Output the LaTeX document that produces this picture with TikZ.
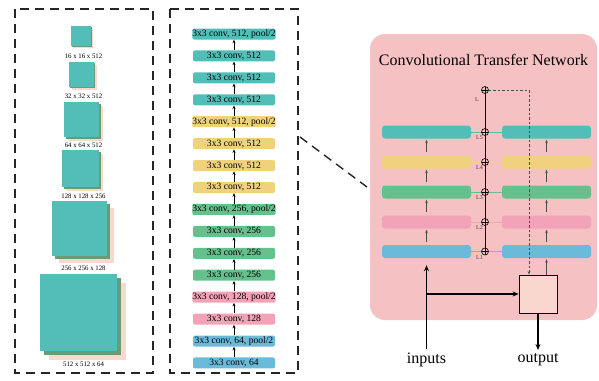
\documentclass[tikz,border=0pt]{standalone}
\usepackage{fontspec}
\setmainfont{Liberation Serif}
\usetikzlibrary{arrows.meta}
\definecolor{cteal}{HTML}{53BDB8}
\definecolor{cyel}{HTML}{F0D27E}
\definecolor{cgrn}{HTML}{66C08D}
\definecolor{cpnk}{HTML}{F2A3B7}
\definecolor{cblu}{HTML}{6CBADA}
\definecolor{cbg}{HTML}{F6C1C2}
\definecolor{cbox}{HTML}{F9D6CE}
\definecolor{cdgrn}{HTML}{6B9A78}
\definecolor{cshad}{HTML}{F9D8CD}
\definecolor{carr}{HTML}{4A4A4A}
\newcommand\fmapstack[3]{%
  \fill[cshad] ({#1+0.12*#3},{#2+0.12*#3}) rectangle ++(#3,#3);
  \fill[cdgrn] ({#1+0.055*#3},{#2+0.055*#3}) rectangle ++(#3,#3);
  \fill[cteal] (#1,#2) rectangle ++(#3,#3);}
\tikzset{
  dashbox/.style={draw=black!85, line width=1.4pt, dash pattern=on 9pt off 6pt},
  conv/.style={rounded corners=2pt, minimum width=82pt, minimum height=11pt, inner sep=0pt, font=\fontsize{9.6}{10}\selectfont},
  marr/.style={-{Stealth[length=3.5pt,width=3pt]}, line width=0.7pt, black},
  bar/.style={rounded corners=3pt, minimum width=89pt, minimum height=13pt, inner sep=0pt},
  rarr/.style={-{Stealth[length=3.5pt,width=2.6pt]}, line width=0.7pt, carr, shorten <=3pt, shorten >=1pt},
  bigarr/.style={-{Stealth[length=6pt,width=5pt]}, line width=1.1pt, black},
  dasharr/.style={-{Stealth[length=3.5pt,width=2.6pt]}, line width=0.8pt, carr, dash pattern=on 2.5pt off 2pt},
  oplus/.style={circle, draw, line width=0.6pt, minimum size=7pt, inner sep=0pt, fill=cbg,
    path picture={\draw[line width=0.5pt] (path picture bounding box.north) -- (path picture bounding box.south)
      (path picture bounding box.west) -- (path picture bounding box.east);}},
  fmlab/.style={font=\fontsize{6.8}{7}\selectfont, inner sep=0pt},
  llab/.style={font=\fontsize{6}{6}\selectfont, text=black!75, inner sep=0pt},
  big/.style={font=\fontsize{16}{18}\selectfont, inner sep=0pt}
}
\begin{document}
\begin{tikzpicture}[x=1pt,y=-1pt]
\useasboundingbox (0,0) rectangle (599,380);
% left column: feature maps
\draw[dashbox] (15,9) rectangle (153,373);
\fmapstack{71}{26}{20}
\fmapstack{69}{62}{25}
\fmapstack{64}{102}{35}
\fmapstack{62}{150}{37}
\fmapstack{52}{201}{55}
\fmapstack{40}{274}{77}
\node[fmlab] (f1) at (83.5,56) {16 x 16 x 512};
\node[fmlab] (f2) at (83.5,96) {32 x 32 x 512};
\node[fmlab] (f3) at (83.5,145) {64 x 64 x 512};
\node[fmlab] (f4) at (83.5,196) {128 x 128 x 256};
\node[fmlab] (f5) at (83.5,268) {256 x 256 x 128};
\node[fmlab] (f6) at (83.5,364) {512 x 512 x 64};
% middle column: layers
\draw[dashbox] (170,9) rectangle (298,373);
\node[conv, fill=cteal] (m1) at (234,34.00) {3x3 conv, 512, pool/2};
\node[conv, fill=cteal] (m2) at (234,55.93) {3x3 conv, 512};
\node[conv, fill=cteal] (m3) at (234,77.86) {3x3 conv, 512};
\node[conv, fill=cteal] (m4) at (234,99.79) {3x3 conv, 512};
\node[conv, fill=cyel] (m5) at (234,121.72) {3x3 conv, 512, pool/2};
\node[conv, fill=cyel] (m6) at (234,143.65) {3x3 conv, 512};
\node[conv, fill=cyel] (m7) at (234,165.58) {3x3 conv, 512};
\node[conv, fill=cyel] (m8) at (234,187.51) {3x3 conv, 512};
\node[conv, fill=cgrn] (m9) at (234,209.44) {3x3 conv, 256, pool/2};
\node[conv, fill=cgrn] (m10) at (234,231.37) {3x3 conv, 256};
\node[conv, fill=cgrn] (m11) at (234,253.30) {3x3 conv, 256};
\node[conv, fill=cgrn] (m12) at (234,275.23) {3x3 conv, 256};
\node[conv, fill=cpnk] (m13) at (234,297.16) {3x3 conv, 128, pool/2};
\node[conv, fill=cpnk] (m14) at (234,319.09) {3x3 conv, 128};
\node[conv, fill=cblu] (m15) at (234,341.02) {3x3 conv, 64, pool/2};
\node[conv, fill=cblu] (m16) at (234,362.95) {3x3 conv, 64};
\foreach \a/\b in {2/1,3/2,4/3,5/4,6/5,7/6,8/7,9/8,10/9,11/10,12/11,13/12,14/13,15/14,16/15}
  \draw[marr] (m\a.north) -- (m\b.south);
% connector to panel
\coordinate (d1) at (300,137);
\coordinate (d2) at (367,187);
\draw[dashbox] (d1) -- (d2);
% right panel
\fill[cbg, rounded corners=15pt] (370,34) rectangle (597,320);
\node[big] (title) at (483.5,60) {Convolutional Transfer Network};
\node[bar, fill=cteal] (lb5) at (426.5,132) {};
\node[bar, fill=cyel] (lb4) at (426.5,162) {};
\node[bar, fill=cgrn] (lb3) at (426.5,192) {};
\node[bar, fill=cpnk] (lb2) at (426.5,222) {};
\node[bar, fill=cblu] (lb1) at (426.5,251.5) {};
\node[bar, fill=cteal] (rb5) at (546.5,132) {};
\node[bar, fill=cyel] (rb4) at (546.5,162) {};
\node[bar, fill=cgrn] (rb3) at (546.5,192) {};
\node[bar, fill=cpnk] (rb2) at (546.5,222) {};
\node[bar, fill=cblu] (rb1) at (546.5,251.5) {};
\draw[cteal, line width=0.8pt] (lb5.east) -- (rb5.west);
\draw[cyel, line width=0.8pt] (lb4.east) -- (rb4.west);
\draw[cgrn, line width=0.8pt] (lb3.east) -- (rb3.west);
\draw[cpnk, line width=0.8pt] (lb2.east) -- (rb2.west);
\draw[cblu, line width=0.8pt] (lb1.east) -- (rb1.west);
\coordinate (c1) at (485,251.5);
\coordinate (ctop0) at (485,90);
\draw[line width=0.8pt] (c1) -- (ctop0);
\node[oplus] (o1) at (485,251.5) {};
\node[oplus] (o2) at (485,222) {};
\node[oplus] (o3) at (485,192) {};
\node[oplus] (o4) at (485,162) {};
\node[oplus] (o5) at (485,132) {};
\node[oplus] (ot) at (485,90) {};
\node[llab] (l0) at (477,100) {L};
\node[llab] (l5) at (479.5,138) {L5};
\node[llab] (l4) at (479.5,168) {L4};
\node[llab] (l3) at (479.5,198) {L3};
\node[llab] (l2) at (479.5,228) {L2};
\node[llab] (l1) at (479.5,257.5) {L1};
\foreach \a/\b in {1/2,2/3,3/4,4/5}{
  \draw[rarr] (lb\a.north) -- (lb\b.south);
  \draw[rarr] (rb\a.north) -- (rb\b.south);
}
\node[draw=black, line width=0.8pt, fill=cbox, minimum size=38pt, inner sep=0pt] (box) at (538,294) {};
\draw[dasharr] (ot.east) -| ([xshift=-9pt]box.north);
\draw[rarr, shorten <=0pt] (rb1.south |- box.north) -- (rb1.south);
\coordinate (inbot) at (426.5,349);
\coordinate (jn) at (426.5,294);
\draw[bigarr, shorten >=7pt] (inbot) -- (lb1.south);
\draw[bigarr] (jn) -- (box.west);
\coordinate (outbot) at (538,350);
\draw[bigarr] (box.south) -- (outbot);
\node[big] (inputs) at (426.5,360) {inputs};
\node[big] (output) at (538,360) {output};
\end{tikzpicture}
\end{document}
